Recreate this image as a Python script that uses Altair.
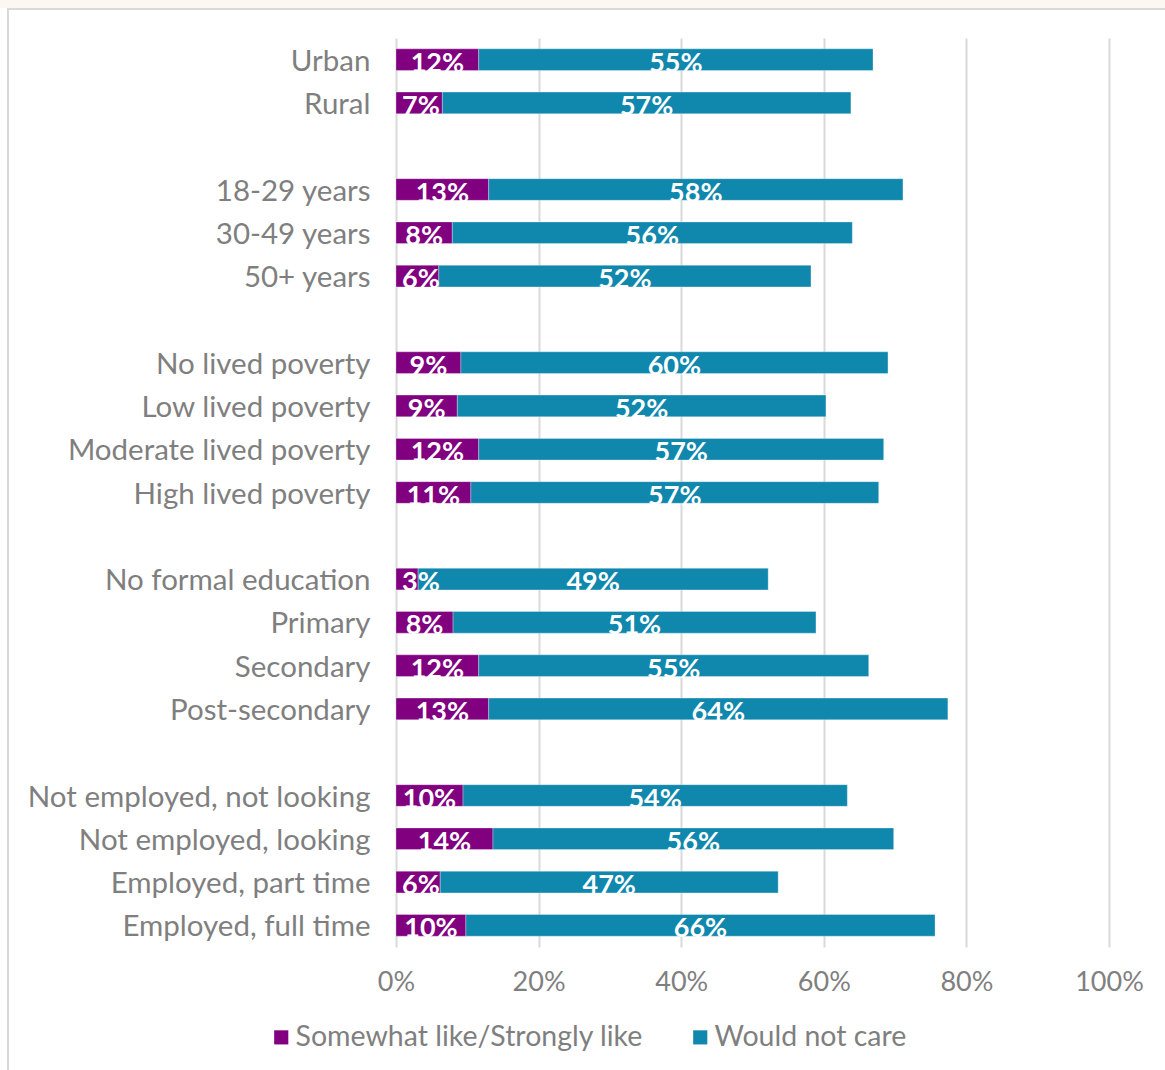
import altair as alt
import pandas as pd

rows = ["Urban", "Rural", " ",
        "18-29 years", "30-49 years", "50+ years", "  ",
        "No lived poverty", "Low lived poverty", "Moderate lived poverty", "High lived poverty", "   ",
        "No formal education", "Primary", "Secondary", "Post-secondary", "    ",
        "Not employed, not looking", "Not employed, looking", "Employed, part time", "Employed, full time"]

categories = ["Urban", "Rural",
              "18-29 years", "30-49 years", "50+ years",
              "No lived poverty", "Low lived poverty", "Moderate lived poverty", "High lived poverty",
              "No formal education", "Primary", "Secondary", "Post-secondary",
              "Not employed, not looking", "Not employed, looking", "Employed, part time", "Employed, full time"]

like = [11.6, 6.5, 13.0, 7.9, 6.0, 9.1, 8.6, 11.6, 10.5, 3.1, 8.0, 11.6, 13.0, 9.4, 13.6, 6.2, 9.8]
not_care = [55.3, 57.3, 58.1, 56.1, 52.2, 59.9, 51.7, 56.8, 57.2, 49.1, 50.9, 54.7, 64.4, 53.9, 56.2, 47.4, 65.8]
like_labels = ["12%", "7%", "13%", "8%", "6%", "9%", "9%", "12%", "11%", "3%", "8%", "12%", "13%", "10%", "14%", "6%", "10%"]
care_labels = ["55%", "57%", "58%", "56%", "52%", "60%", "52%", "57%", "57%", "49%", "51%", "55%", "64%", "54%", "56%", "47%", "66%"]

series = ["Somewhat like/Strongly like", "Would not care"]
colors = ["#800080", "#1087AD"]

recs = []
for c, a, b, la, lb in zip(categories, like, not_care, like_labels, care_labels):
    recs.append({"cat": c, "series": series[0], "start": 0.0, "end": a, "label": la,
                 "mid": max(a / 2, 3.5)})
    recs.append({"cat": c, "series": series[1], "start": a, "end": a + b, "label": lb,
                 "mid": a + b / 2})
df = pd.DataFrame(recs)

FONT = "Lato"
GREY = "#7f7f7f"

yenc = alt.Y("cat:N", sort=rows,
             scale=alt.Scale(domain=rows, paddingInner=0.5, paddingOuter=0.25),
             axis=alt.Axis(title=None, ticks=False, domain=False, labelFontSize=29.5,
                           labelFont=FONT, labelColor=GREY, labelPadding=26, labelLimit=400,
                           labelOffset=2))

bars = alt.Chart(df).mark_bar(stroke="white", strokeWidth=0.6, strokeOpacity=0.5).encode(
    x=alt.X("start:Q", scale=alt.Scale(domain=[0, 100]),
            axis=alt.Axis(title=None, values=[0, 20, 40, 60, 80, 100], labelExpr="datum.value + '%'",
                          grid=True, gridColor="#d9d9d9", gridWidth=2, ticks=False, domain=False,
                          labelFlush=False,
                          labelFontSize=27, labelFont=FONT, labelColor=GREY, labelPadding=22)),
    x2="end:Q",
    y=yenc,
    color=alt.Color("series:N", scale=alt.Scale(domain=series, range=colors),
                    legend=alt.Legend(title=None, orient="none", legendX=-129, legendY=985,
                                      direction="horizontal", symbolType="square", symbolSize=200,
                                      symbolStrokeWidth=0, labelFontSize=28.5, labelFont=FONT,
                                      labelColor=GREY, columnPadding=42, labelOffset=0,
                                      labelLimit=500)),
)

texts = alt.Chart(df).mark_text(color="white", fontWeight="bold", fontSize=27, font=FONT,
                                baseline="alphabetic", dy=12).encode(
    x="mid:Q",
    y=alt.Y("cat:N", sort=rows),
    text="label:N",
)

frame_df = pd.DataFrame({"a": [0]})
frame = alt.Chart(frame_df).mark_rect(fill="transparent", stroke="#d9d9d9", strokeWidth=2).encode(
    x=alt.value(-388), x2=alt.value(1000), y=alt.value(-29), y2=alt.value(1200))
band = alt.Chart(frame_df).mark_rect(fill="#fdf7f1").encode(
    x=alt.value(-396), x2=alt.value(800), y=alt.value(-38), y2=alt.value(-30))

chart = alt.layer(band, frame, bars, texts).properties(
    width=713, height=909,
    background="white",
    autosize=alt.AutoSizeParams(type="none"),
    padding={"left": 396, "top": 38, "right": 56, "bottom": 123},
).configure_view(stroke="transparent", strokeWidth=0)

chart.save("out.html", embed_options={"renderer": "svg", "actions": False})
